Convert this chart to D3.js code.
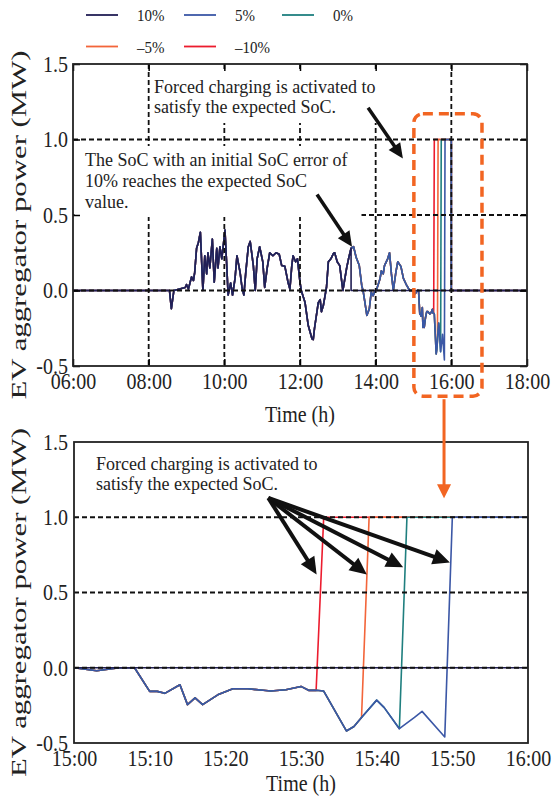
<!DOCTYPE html>
<html>
<head>
<meta charset="utf-8">
<script src="https://cdn.jsdelivr.net/npm/d3@7"></script>
<style>
  body { margin: 0; background: #fff; }
</style>
</head>
<body>
<div id="chart"></div>
<script>
// shared power profile of all SoC-error cases (MW)
var baseTime = ["06:00","08:33","08:36","08:40","08:58","09:00","09:03","09:08","09:11","09:13","09:16","09:19","09:22","09:26","09:29","09:32","09:34","09:37","09:41","09:44","09:48","09:50","09:53","09:56","10:01","10:04","10:06","10:10","10:13","10:17","10:20","10:25","10:28","10:31","10:34","10:38","10:41","10:46","10:49","10:52","10:56","11:01","11:04","11:08","11:12","11:17","11:22","11:27","11:31","11:36","11:41","11:44","11:47","11:49","11:53","11:56","12:00","12:02","12:08","12:13","12:19","12:21","12:23","12:29","12:32","12:34","12:37","12:42","12:45","12:49","12:53","12:55","12:59","13:03","13:08","13:14","13:17","13:21","13:25","13:29","13:34","13:38","13:40","13:43","13:46","13:50","13:53","13:56","13:59","14:01","14:07","14:09","14:12","14:14","14:19","14:22","14:25","14:28","14:32","14:35","14:40","14:44","14:49","14:54","15:00","15:03","15:06","15:08","15:10","15:11","15:12","15:14","15:15","15:16","15:17","15:19","15:21","15:23","15:25","15:26","15:28","15:30","15:31","15:32","15:33","15:36","15:37","15:38","15:40","15:41","15:43","15:45","15:46","15:49"];
var basePower = [0,0,-0.12,0,0.02,0.04,0.01,0.09,0.066,0.12,0.28,0.32,0.386,0,0.23,0.11,0.25,0.15,0.34,0.055,0.28,0.15,0.29,0.21,0.40,0.15,-0.03,0.05,-0.03,0.08,0.23,0.12,0.02,-0.03,0.12,0.29,0.325,0.165,0,0.21,0.29,0.19,0.02,0.15,0.25,0.23,0.25,0.24,0.165,0.16,0.055,0.01,0.165,0.23,0.19,0.21,0.055,0,-0.08,-0.23,-0.32,-0.325,-0.25,-0.08,-0.06,-0.14,-0.10,0.02,0.19,0.21,0.245,0.25,0.19,0.165,0,0.15,0.21,0.28,0.29,0.22,0.165,0.03,0,-0.08,-0.165,-0.12,-0.01,-0.035,0,0,0.08,0.13,0.11,0.165,0.21,0.25,0.11,0,0.12,0.19,0.16,0.08,0.035,0,0,-0.02,0,0,-0.157,-0.157,-0.17,-0.113,-0.245,-0.2,-0.245,-0.18,-0.14,-0.14,-0.15,-0.155,-0.146,-0.124,-0.15,-0.15,-0.155,-0.42,-0.39,-0.33,-0.215,-0.265,-0.405,-0.33,-0.29,-0.46];

// cases
var seriesLabels = ["10%", "5%", "0%", "\u20135%", "\u201310%"];
var seriesColors = ["#221f55", "#3b57a6", "#1f7f7f", "#f3653a", "#ec1c2e"];
var lastSharedTime = ["13:21", "15:49", "15:43", "15:38", "15:32"];

// what each case does after leaving the shared profile
var tail10Time = ["13:21","18:00"],                 tail10Power = [0, 0];
var tail5Time  = ["15:50","16:00","16:00","18:00"],  tail5Power  = [1, 1, 0, 0];
var tail0Time  = ["15:44","16:00","16:00","18:00"],  tail0Power  = [1, 1, 0, 0];
var tailM5Time = ["15:39","16:00","16:00","18:00"],  tailM5Power = [1, 1, 0, 0];
var tailM10Time= ["15:33","16:00","16:00","18:00"],  tailM10Power= [1, 1, 0, 0];

// ticks
var topTickLabels = ["06:00","08:00","10:00","12:00","14:00","16:00","18:00"];
var botTickLabels = ["15:00","15:10","15:20","15:30","15:40","15:50","16:00"];
var yTickValues = [-0.5, 0, 0.5, 1, 1.5];
var yTickLabels = ["-0.5", "0.0", "0.5", "1.0", "1.5"];
var topGridTimes = ["08:00","10:00","12:00","14:00","16:00"];
var gridPower = [0, 0.5, 1];

// annotation arrows (hours, MW)
var topArrowFrom = [[13.80, 1.21], [12.45, 0.636]];
var topArrowTo   = [[14.72, 0.874], [13.375, 0.29]];
var botArrowFrom = [15.428, 1.128];
var botArrowTo   = [[15.5345, 0.62], [15.645, 0.62], [15.725, 0.667], [15.828, 0.70]];

var serif = "'Liberation Serif', 'Times New Roman', serif";
var S = 1.15;      // plot text is a bit stretched vertically in the figure
var S_YLAB = 1.4;  // the y title even more

function hrs(s) { var p = s.split(":"); return +p[0] + (+p[1]) / 60; }

var tails = [[tail10Time, tail10Power], [tail5Time, tail5Power], [tail0Time, tail0Power],
             [tailM5Time, tailM5Power], [tailM10Time, tailM10Power]];

var series = seriesLabels.map(function(lab, i) {
    var cut = hrs(lastSharedTime[i]);
    var pts = [];
    baseTime.forEach(function(t, j) {
        if (hrs(t) <= cut + 1e-9) pts.push({t: hrs(t), v: basePower[j]});
    });
    tails[i][0].forEach(function(t, j) { pts.push({t: hrs(t), v: tails[i][1][j]}); });
    return {label: lab, color: seriesColors[i], pts: pts};
});

var svg = d3.select("#chart").append("svg")
    .attr("width", 555)
    .attr("height", 803)
    .style("background", "#fff");

var topBox = {left: 73, top: 64, width: 454, height: 302};
var botBox = {left: 74, top: 442, width: 454, height: 301};

var xTop = d3.scaleLinear().domain([6, 18]).range([topBox.left, topBox.left + topBox.width]);
var yTop = d3.scaleLinear().domain([-0.5, 1.5]).range([topBox.top + topBox.height, topBox.top]);
var xBot = d3.scaleLinear().domain([15, 16]).range([botBox.left, botBox.left + botBox.width]);
var yBot = d3.scaleLinear().domain([-0.5, 1.5]).range([botBox.top + botBox.height, botBox.top]);

var defs = svg.append("defs");
[["clipTop", topBox], ["clipBot", botBox]].forEach(function(c) {
    defs.append("clipPath").attr("id", c[0]).append("rect")
        .attr("x", c[1].left).attr("y", c[1].top)
        .attr("width", c[1].width).attr("height", c[1].height);
});

function arrow(g, x1, y1, x2, y2, color, lw, headLen, headW) {
    var dx = x2 - x1, dy = y2 - y1, L = Math.hypot(dx, dy), ux = dx / L, uy = dy / L;
    var bx = x2 - ux * headLen, by = y2 - uy * headLen;
    g.append("line")
        .attr("x1", x1).attr("y1", y1)
        .attr("x2", bx + ux * 2).attr("y2", by + uy * 2)
        .attr("stroke", color).attr("stroke-width", lw);
    g.append("path")
        .attr("d", "M" + x2 + "," + y2 + "L" + (bx - uy * headW) + "," + (by + ux * headW) +
              "L" + (bx + uy * headW) + "," + (by - ux * headW) + "Z")
        .attr("fill", color);
}

function panel(box, x, y, clipId, opts) {
    var g = svg.append("g");
    var line = d3.line().x(function(d) { return x(d.t); }).y(function(d) { return y(d.v); });

    // data, -10% first so 10% ends on top
    g.append("g").attr("clip-path", "url(#" + clipId + ")")
        .selectAll("path")
        .data(series.slice().reverse())
        .enter().append("path")
            .attr("d", function(d) { return line(d.pts); })
            .attr("fill", "none")
            .attr("stroke", function(d) { return d.color; })
            .attr("stroke-width", 1.6)
            .attr("stroke-linejoin", "round");

    // dashed grid
    var grid = g.append("g").attr("stroke", "#111").attr("stroke-width", 1.8).attr("stroke-dasharray", "5,3");
    gridPower.forEach(function(p) {
        grid.append("line").attr("x1", box.left).attr("x2", box.left + box.width)
            .attr("y1", y(p)).attr("y2", y(p));
    });
    (opts.gridTimes || []).forEach(function(t) {
        grid.append("line").attr("y1", box.top).attr("y2", box.top + box.height)
            .attr("x1", x(hrs(t))).attr("x2", x(hrs(t)));
    });

    // white boxes behind the notes
    (opts.masks || []).forEach(function(m) {
        g.append("rect").attr("x", m[0]).attr("y", m[1]).attr("width", m[2]).attr("height", m[3])
            .attr("fill", "#fff");
    });

    var tickLen = opts.ticks ? -7 : 0;
    var xAx = g.append("g")
        .attr("transform", "translate(0," + (box.top + box.height) + ")")
        .call(d3.axisBottom(x)
            .tickValues(opts.tickLabels.map(hrs))
            .tickFormat(function(d, i) { return opts.tickLabels[i]; })
            .tickSizeInner(tickLen).tickSizeOuter(0).tickPadding(6));
    var yAx = g.append("g")
        .attr("transform", "translate(" + box.left + ",0)")
        .call(d3.axisLeft(y)
            .tickValues(yTickValues)
            .tickFormat(function(d, i) { return yTickLabels[i]; })
            .tickSizeInner(tickLen).tickSizeOuter(0).tickPadding(opts.yPad));
    [xAx, yAx].forEach(function(a) {
        a.select(".domain").remove();
        a.attr("font-family", serif).attr("font-size", 20);
        a.selectAll("text").attr("fill", "#222").attr("transform", "scale(1," + S + ")");
        a.selectAll("line").attr("stroke-width", 1.5);
    });
    if (opts.ticks) {
        var tAx = g.append("g").attr("transform", "translate(0," + box.top + ")")
            .call(d3.axisTop(x).tickValues(opts.tickLabels.map(hrs)).tickFormat("")
                .tickSizeInner(-7).tickSizeOuter(0));
        var rAx = g.append("g").attr("transform", "translate(" + (box.left + box.width) + ",0)")
            .call(d3.axisRight(y).tickValues(yTickValues).tickFormat("")
                .tickSizeInner(-7).tickSizeOuter(0));
        [tAx, rAx].forEach(function(a) {
            a.select(".domain").remove();
            a.selectAll("line").attr("stroke-width", 1.5);
        });
    }

    // frame
    g.append("rect")
        .attr("x", box.left).attr("y", box.top)
        .attr("width", box.width).attr("height", box.height)
        .attr("fill", "none").attr("stroke", "#222").attr("stroke-width", 1.8);

    // axis titles
    g.append("text")
        .attr("transform", "translate(" + (box.left + box.width / 2) + "," + opts.xTitleY + ") scale(1," + S + ")")
        .attr("text-anchor", "middle")
        .attr("font-family", serif).attr("font-size", 20).attr("fill", "#222")
        .text("Time (h)");
    g.append("text")
        .attr("transform", "translate(26," + (box.top + box.height / 2 + 10) + ") scale(1," + S_YLAB + ") rotate(-90)")
        .attr("text-anchor", "middle")
        .attr("font-family", serif).attr("font-size", 22).attr("fill", "#222")
        .text("EV aggregator power (MW)");
    return g;
}

function note(g, x0, y0, lines, lh) {
    lines.forEach(function(s, i) {
        g.append("text")
            .attr("x", x0).attr("y", y0 + i * lh)
            .attr("font-family", serif).attr("font-size", 18).attr("fill", "#222")
            .text(s);
    });
}

// top panel
var gTop = panel(topBox, xTop, yTop, "clipTop", {
    ticks: true, tickLabels: topTickLabels, gridTimes: topGridTimes, yPad: 5, xTitleY: 422,
    masks: [[152, 72, 234, 51], [74.5, 146, 287, 71]]
});
note(gTop, 154, 93, ["Forced charging is activated to", "satisfy the expected SoC."], 20);
note(gTop, 85, 166, ["The SoC with an initial SoC error of", "10% reaches the expected SoC", "value."], 21);
topArrowFrom.forEach(function(f, i) {
    arrow(gTop, xTop(f[0]), yTop(f[1]), xTop(topArrowTo[i][0]), yTop(topArrowTo[i][1]), "#111", 3.5, 15, 7);
});

// zoom box and link arrow
gTop.append("rect")
    .attr("x", xTop(15.01)).attr("y", yTop(1.17))
    .attr("width", xTop(16.81) - xTop(15.01)).attr("height", yTop(-0.70) - yTop(1.17))
    .attr("rx", 9).attr("ry", 9)
    .attr("fill", "none").attr("stroke", "#f26522").attr("stroke-width", 3.5)
    .attr("stroke-dasharray", "10,6");

// bottom panel
var gBot = panel(botBox, xBot, yBot, "clipBot", {
    ticks: false, tickLabels: botTickLabels, yPad: 6, xTitleY: 791, masks: []
});
note(gBot, 96, 470, ["Forced charging is activated to", "satisfy the expected SoC."], 20);
botArrowTo.forEach(function(t) {
    arrow(gBot, xBot(botArrowFrom[0]), yBot(botArrowFrom[1]), xBot(t[0]), yBot(t[1]), "#111", 4, 17, 8);
});

arrow(svg, xTop(15.807), yTop(-0.70) + 3, xTop(15.807), yBot(1.126), "#f26522", 3, 14, 7);

// legend
var legend = svg.append("g");
series.forEach(function(s, i) {
    var col = i % 3, row = Math.floor(i / 3);
    var lx = 86 + col * 98, ly = 15 + row * 31.5;
    legend.append("line")
        .attr("x1", lx).attr("x2", lx + 32).attr("y1", ly).attr("y2", ly)
        .attr("stroke", s.color).attr("stroke-width", 1.8);
    legend.append("text")
        .attr("transform", "translate(" + (lx + 51) + "," + ly + ") scale(1," + S + ")")
        .attr("dy", "0.35em")
        .attr("font-family", serif).attr("font-size", 15).attr("fill", "#222")
        .text(s.label);
});
</script>
</body>
</html>
